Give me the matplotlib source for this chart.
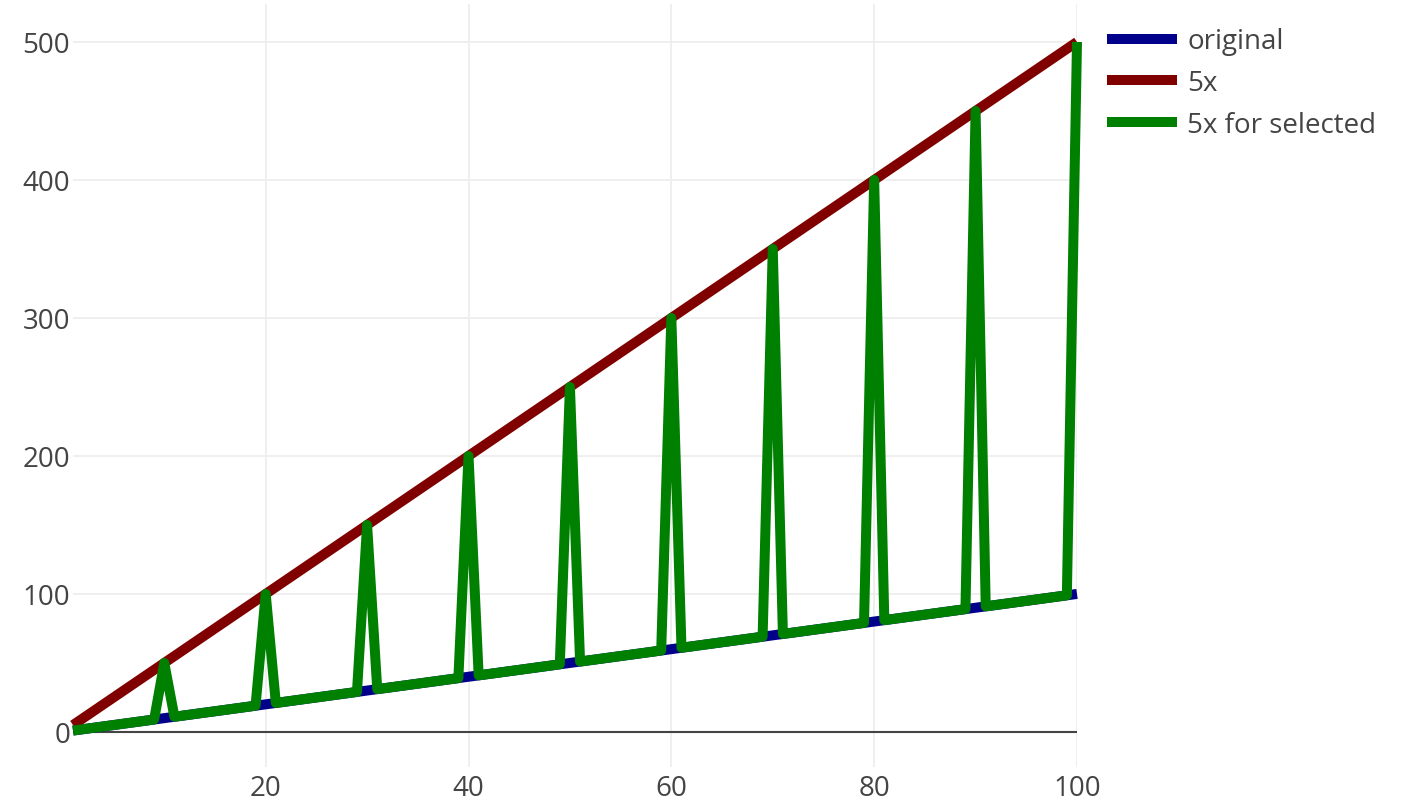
import matplotlib.pyplot as plt

plt.rcParams["font.family"] = ["Open Sans", "DejaVu Sans"]

# x positions 1..100
x_values = [
    1, 2, 3, 4, 5, 6, 7, 8, 9, 10,
    11, 12, 13, 14, 15, 16, 17, 18, 19, 20,
    21, 22, 23, 24, 25, 26, 27, 28, 29, 30,
    31, 32, 33, 34, 35, 36, 37, 38, 39, 40,
    41, 42, 43, 44, 45, 46, 47, 48, 49, 50,
    51, 52, 53, 54, 55, 56, 57, 58, 59, 60,
    61, 62, 63, 64, 65, 66, 67, 68, 69, 70,
    71, 72, 73, 74, 75, 76, 77, 78, 79, 80,
    81, 82, 83, 84, 85, 86, 87, 88, 89, 90,
    91, 92, 93, 94, 95, 96, 97, 98, 99, 100,
]

original = [
    1, 2, 3, 4, 5, 6, 7, 8, 9, 10,
    11, 12, 13, 14, 15, 16, 17, 18, 19, 20,
    21, 22, 23, 24, 25, 26, 27, 28, 29, 30,
    31, 32, 33, 34, 35, 36, 37, 38, 39, 40,
    41, 42, 43, 44, 45, 46, 47, 48, 49, 50,
    51, 52, 53, 54, 55, 56, 57, 58, 59, 60,
    61, 62, 63, 64, 65, 66, 67, 68, 69, 70,
    71, 72, 73, 74, 75, 76, 77, 78, 79, 80,
    81, 82, 83, 84, 85, 86, 87, 88, 89, 90,
    91, 92, 93, 94, 95, 96, 97, 98, 99, 100,
]

five_x = [
    5, 10, 15, 20, 25, 30, 35, 40, 45, 50,
    55, 60, 65, 70, 75, 80, 85, 90, 95, 100,
    105, 110, 115, 120, 125, 130, 135, 140, 145, 150,
    155, 160, 165, 170, 175, 180, 185, 190, 195, 200,
    205, 210, 215, 220, 225, 230, 235, 240, 245, 250,
    255, 260, 265, 270, 275, 280, 285, 290, 295, 300,
    305, 310, 315, 320, 325, 330, 335, 340, 345, 350,
    355, 360, 365, 370, 375, 380, 385, 390, 395, 400,
    405, 410, 415, 420, 425, 430, 435, 440, 445, 450,
    455, 460, 465, 470, 475, 480, 485, 490, 495, 500,
]

five_x_selected = [
    1, 2, 3, 4, 5, 6, 7, 8, 9, 50,
    11, 12, 13, 14, 15, 16, 17, 18, 19, 100,
    21, 22, 23, 24, 25, 26, 27, 28, 29, 150,
    31, 32, 33, 34, 35, 36, 37, 38, 39, 200,
    41, 42, 43, 44, 45, 46, 47, 48, 49, 250,
    51, 52, 53, 54, 55, 56, 57, 58, 59, 300,
    61, 62, 63, 64, 65, 66, 67, 68, 69, 350,
    71, 72, 73, 74, 75, 76, 77, 78, 79, 400,
    81, 82, 83, 84, 85, 86, 87, 88, 89, 450,
    91, 92, 93, 94, 95, 96, 97, 98, 99, 500,
]

x_ticks = [20, 40, 60, 80, 100]
y_ticks = [0, 100, 200, 300, 400, 500]

fig = plt.figure(figsize=(14.14, 8.03), dpi=100)
ax = fig.add_axes([73 / 1414, 35 / 803, 1004 / 1414, 763 / 803])

lw = 7.2
style = dict(linewidth=lw, solid_capstyle="butt", solid_joinstyle="round", clip_on=False)
ax.plot(x_values, original, color="#00008b", label="original", **style)
ax.plot(x_values, five_x, color="#800000", label="5x", **style)
ax.plot(x_values, five_x_selected, color="#008000", label="5x for selected", **style)

ax.set_xlim(1, 100)
ax.set_ylim(-25.4, 527.5)
ax.set_xticks(x_ticks)
ax.set_yticks(y_ticks)
ax.grid(True, color="#eeeeee", linewidth=1.3)
ax.set_axisbelow(True)
ax.axhline(0, color="#444444", linewidth=1.5, zorder=1)
for s in ax.spines.values():
    s.set_visible(False)
ax.tick_params(length=0, labelsize=20, labelcolor="#444444")
ax.tick_params(axis="x", pad=5)
ax.tick_params(axis="y", pad=2)

leg = fig.legend(loc="upper left", bbox_to_anchor=(1088 / 1414, 1 - 9 / 803),
                 frameon=False, fontsize=20, handlelength=2.5, handletextpad=0.37,
                 labelspacing=0.49, borderpad=0.2)
for t in leg.get_texts():
    t.set_color("#444444")

fig.savefig("out.png", dpi=100)
